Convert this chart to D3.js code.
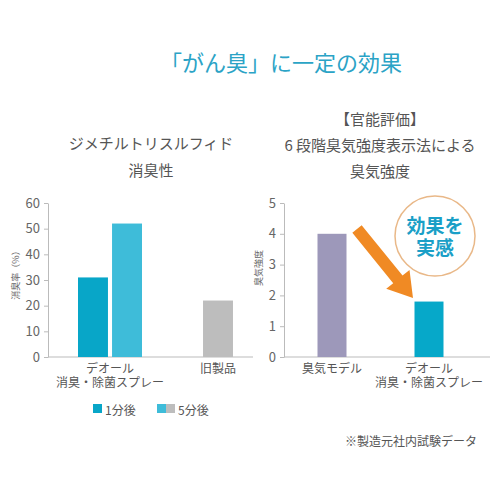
<!DOCTYPE html>
<html><head><meta charset="utf-8">
<script src="https://cdn.jsdelivr.net/npm/d3@7"></script>
<style>body{margin:0;background:#fff}</style>
</head><body>
<svg id="c" width="500" height="500"></svg>
<script>
// ---- data ----
const leftCategories = ["デオール\n消臭・除菌スプレー", "旧製品"];
const leftSeries = ["1分後", "5分後"];
const leftValues = [
  {cat: "デオール\n消臭・除菌スプレー", series: "1分後", value: 31},
  {cat: "デオール\n消臭・除菌スプレー", series: "5分後", value: 52},
  {cat: "旧製品", series: "5分後", value: 22}
];
const leftTicks = [0, 10, 20, 30, 40, 50, 60];
const rightCategories = ["臭気モデル", "デオール\n消臭・除菌スプレー"];
const rightValues = [4.0, 1.8];
const rightTicks = [0, 1, 2, 3, 4, 5];

const FONT = "'Noto Sans CJK JP','Noto Sans',sans-serif";
const TIGHT = "'Liberation Sans','Noto Sans CJK JP',sans-serif";
const svg = d3.select("#c").style("font-family", FONT);

function txt(x, y, s, size, color, weight, fam) {
  const t = svg.append("text").attr("x", x).attr("y", y).attr("text-anchor", "middle")
    .attr("dominant-baseline", "central").attr("font-size", size)
    .attr("fill", color).attr("font-weight", weight || "normal").text(s);
  if (fam) t.attr("font-family", fam);
  return t;
}
function multi(x, y, lines, size, color, gap, weight, fam) {
  lines.forEach((l, i) => txt(x, y + i * gap, l, size, color, weight, fam));
}

// title
txt(281, 61, "「がん臭」に一定の効果", 22, "#2ba3c6");
// subtitles
multi(151, 142, ["ジメチルトリスルフィド", "消臭性"], 15, "#555", 27);
multi(380, 118, ["【官能評価】", "6 段階臭気強度表示法による", "臭気強度"], 15, "#555", 26);

// ---- left chart ----
const yL = d3.scaleLinear().domain([0, 60]).range([357, 203]);
const xL = d3.scalePoint().domain(leftCategories).range([110, 218]);
const sub = d3.scaleBand().domain(leftSeries).range([-32, 32]).paddingInner(0.12);
const colorL = {"1分後": "#08a6c8", "5分後": "#3ebcd9"};

const axL = svg.append("g").attr("transform", "translate(48,0)")
  .call(d3.axisLeft(yL).tickValues(leftTicks).tickSize(4).tickSizeOuter(0).tickPadding(4));
axL.selectAll("path,line").attr("stroke", "#bbb");
axL.selectAll("text").attr("font-size", 13).attr("fill", "#666").attr("font-family", FONT);
svg.append("line").attr("x1", 48).attr("x2", 253).attr("y1", 357).attr("y2", 357).attr("stroke", "#bbb");

const bw = sub.bandwidth();
svg.selectAll(".lb").data(leftValues).enter().append("rect")
  .attr("x", d => d.cat === "旧製品" ? xL(d.cat) - bw / 2 : xL(d.cat) + sub(d.series))
  .attr("width", bw)
  .attr("y", d => yL(d.value))
  .attr("height", d => yL(0) - yL(d.value))
  .attr("fill", d => d.cat === "旧製品" ? "#bdbdbd" : colorL[d.series]);

leftCategories.forEach(c => multi(xL(c), 369, c.split("\n"), 12, "#555", 14, "normal", TIGHT));
svg.append("text").attr("transform", "translate(15,273) rotate(-90)")
  .attr("text-anchor", "middle").attr("dominant-baseline", "central")
  .attr("font-size", 9).attr("fill", "#666").text("消臭率（%）");

// legend
svg.append("rect").attr("x", 93).attr("y", 404).attr("width", 9).attr("height", 9).attr("fill", colorL["1分後"]);
svg.append("text").attr("x", 105).attr("y", 409).attr("dominant-baseline", "central")
  .attr("font-size", 12).attr("fill", "#555").text(leftSeries[0]);
svg.append("rect").attr("x", 157).attr("y", 404).attr("width", 9).attr("height", 9).attr("fill", colorL["5分後"]);
svg.append("rect").attr("x", 166).attr("y", 404).attr("width", 9).attr("height", 9).attr("fill", "#bdbdbd");
svg.append("text").attr("x", 178).attr("y", 409).attr("dominant-baseline", "central")
  .attr("font-size", 12).attr("fill", "#555").text(leftSeries[1]);

// ---- right chart ----
const yR = d3.scaleLinear().domain([0, 5]).range([357, 203]);
const xR = d3.scalePoint().domain(rightCategories).range([332, 429]);
const colorR = ["#9d98ba", "#06a8c9"];
const axR = svg.append("g").attr("transform", "translate(284,0)")
  .call(d3.axisLeft(yR).tickValues(rightTicks).tickFormat(d3.format("d")).tickSize(4).tickSizeOuter(0).tickPadding(4));
axR.selectAll("path,line").attr("stroke", "#bbb");
axR.selectAll("text").attr("font-size", 13).attr("fill", "#666").attr("font-family", FONT);
svg.append("line").attr("x1", 284).attr("x2", 490).attr("y1", 357).attr("y2", 357).attr("stroke", "#bbb");

const rbw = 29;
svg.selectAll(".rb").data(rightValues).enter().append("rect")
  .attr("x", (d, i) => xR(rightCategories[i]) - rbw / 2)
  .attr("width", rbw)
  .attr("y", d => yR(d))
  .attr("height", d => yR(0) - yR(d))
  .attr("fill", (d, i) => colorR[i]);

rightCategories.forEach(c => multi(xR(c), 369, c.split("\n"), 12, "#555", 14, "normal", TIGHT));
svg.append("text").attr("transform", "translate(258,268) rotate(-90)")
  .attr("text-anchor", "middle").attr("dominant-baseline", "central")
  .attr("font-size", 9).attr("fill", "#666").text("臭気強度");

// arrow
(function () {
  const x0 = 357, y0 = 229, x1 = 413, y1 = 298;
  const ang = Math.atan2(y1 - y0, x1 - x0);
  const len = Math.hypot(x1 - x0, y1 - y0);
  const sw = 6, hw = 15, hl = 24;
  const pts = [[0, -sw], [len - hl, -sw], [len - hl, -hw], [len, 0], [len - hl, hw], [len - hl, sw], [0, sw]];
  svg.append("polygon")
    .attr("points", pts.map(p => p.join(",")).join(" "))
    .attr("transform", `translate(${x0},${y0}) rotate(${ang * 180 / Math.PI})`)
    .attr("fill", "#f08a24");
})();

// badge
svg.append("circle").attr("cx", 435).attr("cy", 236).attr("r", 40)
  .attr("fill", "#fff").attr("stroke", "#e9b888").attr("stroke-width", 1.5);
multi(435, 226, ["効果を", "実感"], 19, "#1a9fc7", 22.5, "bold", TIGHT);

// footnote
svg.append("text").attr("x", 477).attr("y", 440).attr("text-anchor", "end")
  .attr("dominant-baseline", "central").attr("font-size", 12).attr("fill", "#555")
  .text("※製造元社内試験データ");
</script>
</body></html>
